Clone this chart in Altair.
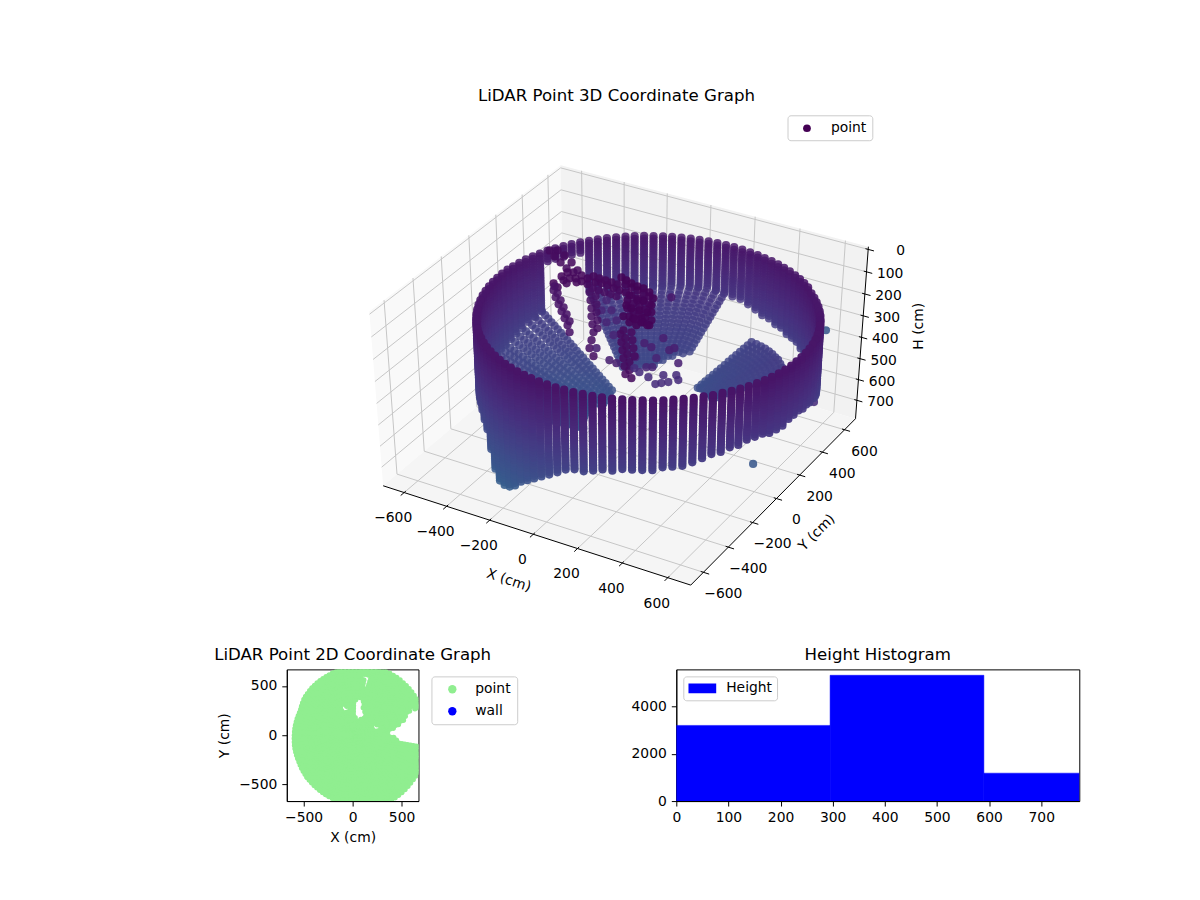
"""LiDAR point graphs: 3D scatter, 2D footprint and height histogram."""
import numpy as np
import pandas as pd
import altair as alt

FONT = "DejaVu Sans"

# one entry per scan column, degrees around the wall centre
column_azimuth = [
    -180.0, -176.7, -173.5, -170.2, -166.9, -163.6, -160.4, -157.1, -153.8, -150.5,
    -147.3, -144.0, -140.7, -137.5, -134.2, -130.9, -127.6, -124.4, -121.1, -117.8,
    -114.5, -111.3, -108.0, -104.7, -101.5, -98.2, -94.9, -91.6, -88.4, -85.1,
    -81.8, -78.5, -75.3, -72.0, -68.7, -65.5, -62.2, -58.9, -55.6, -52.4,
    -49.1, -45.8, -42.5, -39.3, -36.0, -32.7, -29.5, -26.2, -22.9, -19.6,
    -16.4, -13.1, -9.8, -6.5, -3.3, 0.0, 3.3, 6.5, 9.8, 13.1,
    16.4, 19.6, 22.9, 26.2, 29.5, 32.7, 36.0, 39.3, 42.5, 45.8,
    49.1, 52.4, 55.6, 58.9, 62.2, 65.5, 68.7, 72.0, 75.3, 78.5,
    81.8, 85.1, 88.4, 91.6, 94.9, 98.2, 101.5, 104.7, 108.0, 111.3,
    114.5, 117.8, 121.1, 124.4, 127.6, 130.9, 134.2, 137.5, 140.7, 144.0,
    147.3, 150.5, 153.8, 157.1, 160.4, 163.6, 166.9, 170.2, 173.5, 176.7,
]
WALL_CENTER = (97, 26)
WALL_RADIUS = 665
column_rim_h = [
    136, 136, 136, 136, 136, 136, 136, 136, 136, 136,
    137, 136, 135, 134, 133, 132, 131, 130, 129, 128,
    127, 126, 125, 124, 123, 122, 122, 122, 121, 121,
    120, 120, 120, 120, 120, 120, 120, 120, 120, 120,
    120, 121, 121, 122, 122, 123, 124, 125, 126, 127,
    127, 128, 129, 129, 129, 129, 130, 131, 132, 133,
    132, 133, 134, 135, 136, 137, 138, 139, 140, 141,
    134, 135, 136, 137, 138, 139, 140, 141, 142, 142,
    143, 143, 143, 144, 144, 144, 145, 145, 145, 145,
    145, 145, 145, 145, 145, 145, 144, 144, 144, 143,
    143, 142, 141, 140, 140, 139, 138, 138, 137, 136,
]
column_wall_bottom = [
    461, 461, 465, 469, 473, 476, 479, 481, 483, 484,
    483, 477, 480, 490, 505, 535, 600, 670, 705, 710,
    700, 672, 640, 610, 585, 560, 535, 512, 492, 475,
    468, 462, 450, 445, 442, 438, 435, 432, 430, 428,
    420, 410, 400, 393, 386, 382, 378, 376, 377, 378,
    379, 383, 383, 374, 369, 370, 384, 393, 403, 408,
    427, 441, 446, 452, 453, 454, 453, 451, 448, 444,
    441, 438, 434, 431, 428, 424, 417, 409, 407, 397,
    385, 381, 372, 364, 360, 358, 361, 365, 367, 369,
    374, 374, 374, 374, 374, 374, 373, 373, 373, 198,
    198, 197, 196, 195, 404, 416, 423, 436, 444, 452,
]
# ground returns behind each column: outer and inner radius, height at the outer end; 0 = none
column_floor_outer = [
    665, 665, 665, 665, 665, 665, 665, 665, 665, 665,
    665, 665, 665, 0, 0, 0, 0, 0, 0, 0,
    0, 0, 0, 0, 0, 0, 0, 0, 0, 0,
    0, 0, 0, 0, 0, 0, 0, 0, 0, 0,
    0, 0, 0, 0, 0, 0, 0, 0, 0, 0,
    0, 0, 0, 0, 0, 0, 0, 0, 0, 0,
    0, 0, 0, 0, 0, 0, 555, 555, 555, 555,
    555, 550, 545, 540, 540, 540, 540, 0, 0, 0,
    0, 0, 0, 665, 665, 665, 665, 665, 665, 665,
    665, 665, 665, 665, 665, 665, 665, 665, 665, 0,
    0, 0, 0, 0, 665, 665, 665, 665, 665, 665,
]
column_floor_inner = [
    250, 250, 250, 250, 250, 250, 250, 250, 250, 250,
    250, 250, 250, 0, 0, 0, 0, 0, 0, 0,
    0, 0, 0, 0, 0, 0, 0, 0, 0, 0,
    0, 0, 0, 0, 0, 0, 0, 0, 0, 0,
    0, 0, 0, 0, 0, 0, 0, 0, 0, 0,
    0, 0, 0, 0, 0, 0, 0, 0, 0, 0,
    0, 0, 0, 0, 0, 0, 250, 250, 250, 250,
    260, 260, 260, 260, 260, 260, 260, 0, 0, 0,
    0, 0, 0, 345, 340, 330, 320, 310, 300, 290,
    280, 280, 280, 280, 280, 280, 280, 280, 280, 0,
    0, 0, 0, 0, 220, 220, 220, 220, 220, 220,
]
column_floor_h = [
    461, 461, 465, 469, 473, 476, 479, 481, 483, 484,
    483, 477, 471, 0, 0, 0, 0, 0, 0, 0,
    0, 0, 0, 0, 0, 0, 0, 0, 0, 0,
    0, 0, 0, 0, 0, 0, 0, 0, 0, 0,
    0, 0, 0, 0, 0, 0, 0, 0, 0, 0,
    0, 0, 0, 0, 0, 0, 0, 0, 0, 0,
    0, 0, 0, 0, 0, 0, 420, 420, 420, 420,
    425, 430, 435, 440, 445, 450, 455, 0, 0, 0,
    0, 0, 0, 364, 360, 358, 361, 365, 367, 369,
    374, 374, 374, 374, 374, 374, 373, 373, 373, 0,
    0, 0, 0, 0, 404, 416, 423, 436, 444, 452,
]
wall_steps = [
    0, 12, 24, 36, 48, 60, 72, 84, 96, 108, 120, 132, 144, 156, 168, 180, 192, 204, 216,
    228, 240, 252, 264, 276, 288, 300, 312, 324, 336, 348, 360, 372, 384, 396, 408, 420,
    432, 444, 456, 468, 480, 492, 504, 516, 528, 540, 552, 564, 576, 588,
]
floor_radii = [
    660, 640, 620, 600, 580, 560, 540, 520, 500, 480, 460, 440,
    420, 400, 380, 360, 340, 320, 300, 280, 260, 240, 220,
]
floor_slope = 0.4

# returns off the wall and ground, read on the picture plane
clutter_x = [
    620, 625, 630, 636, 642, 648, 652, 650, 646, 640, 635, 628, 622, 628, 636, 642, 630, 638, 625, 632, 642, 648,
    624, 630, 636, 642, 648, 624, 630, 636, 642, 648, 626, 632, 638, 644, 650, 626, 632, 638, 644, 650, 628, 634, 640, 646,
    606, 612, 600, 594, 618, 586, 580, 572, 566, 560, 552, 575, 565, 556,
    610, 604, 598, 592, 616, 586, 580, 574, 568, 562, 603, 609, 615, 597, 591,
    548, 553, 559, 565, 556, 563, 570, 576,
    552, 554, 557, 560, 563, 566, 568, 553, 556, 559, 562, 565, 568,
    588, 589, 590, 590, 591, 592, 590, 588, 592, 594, 595, 595, 596, 596,
    622, 624, 625, 626, 628, 628, 630, 619, 620, 621, 622, 623, 624, 630, 631, 632, 633,
    605, 610, 600, 615, 605, 612,
    662, 673, 668, 677, 650, 643, 634, 655, 645, 651, 633, 638, 662, 675, 647, 654, 660, 667, 677, 615, 608, 595,
    670, 825, 752, 813,
]
clutter_y = [
    277, 280, 283, 286, 288, 292, 298, 305, 312, 318, 325, 322, 316, 295, 300, 300, 308, 310, 305, 318, 322, 325,
    284, 287, 290, 293, 296, 292, 295, 298, 301, 304, 300, 303, 306, 309, 312, 308, 311, 314, 317, 320, 316, 319, 322, 325,
    285, 288, 283, 282, 290, 278, 275, 272, 272, 276, 283, 282, 283, 287,
    282, 280, 278, 276, 284, 284, 281, 278, 278, 280, 292, 294, 296, 290, 288,
    250, 256, 262, 268, 250, 255, 262, 270,
    290, 297, 304, 311, 318, 325, 332, 286, 293, 300, 307, 314, 321,
    292, 300, 308, 316, 324, 332, 340, 348, 356, 296, 304, 312, 320, 328,
    330, 338, 346, 354, 362, 370, 378, 334, 342, 350, 358, 366, 374, 332, 340, 348, 356,
    300, 310, 310, 320, 322, 335,
    338, 348, 350, 363, 347, 343, 357, 358, 367, 367, 368, 372, 375, 375, 377, 384, 383, 382, 380, 363, 360, 348,
    297, 330, 464, 402,
]
clutter_h = [
    10, 10, 10, 10, 10, 10, 10, 10, 10, 10, 10, 10, 10, 10, 10, 10, 10, 10, 10, 10, 10, 10,
    25, 25, 25, 25, 25, 25, 25, 25, 25, 25, 25, 25, 25, 25, 25, 25, 25, 25, 25, 25, 25, 25, 25, 25,
    40, 40, 40, 40, 40, 40, 40, 40, 40, 40, 40, 40, 40, 40,
    50, 50, 50, 50, 50, 50, 50, 50, 50, 50, 80, 80, 80, 80, 80,
    60, 60, 60, 60, 60, 60, 60, 60,
    120, 120, 120, 120, 120, 120, 120, 120, 120, 120, 120, 120, 120,
    100, 100, 100, 100, 100, 100, 100, 100, 100, 100, 100, 100, 100, 100,
    60, 60, 60, 60, 60, 60, 60, 70, 70, 70, 70, 70, 70, 70, 70, 70, 70,
    250, 250, 250, 250, 250, 250,
    200, 200, 200, 200, 200, 200, 250, 250, 250, 250, 300, 300, 300, 300, 300, 300, 300, 300, 300, 200, 200, 200,
    150, 650, 650, 300,
]

x_ticks = [-600, -400, -200, 0, 200, 400, 600]
y_ticks = [-600, -400, -200, 0, 200, 400, 600]
h_ticks = [0, 100, 200, 300, 400, 500, 600, 700]

# 2D footprint: outline radius from the origin for each azimuth, then the gaps in it
footprint_radius = [
    620, 622, 624, 626, 628, 630, 632, 634, 636, 640,
    644, 648, 652, 656, 660, 664, 668, 672, 676, 682,
    686, 692, 698, 704, 710, 716, 722, 728, 736, 744,
    752, 760, 766, 772, 778, 784, 790, 793, 793, 793,
    793, 792, 791, 790, 790, 790, 790, 790, 790, 790,
    790, 789, 788, 787, 786, 785, 784, 783, 782, 780,
    778, 776, 775, 774, 773, 772, 771, 770, 768, 766,
    765, 763, 760, 758, 752, 745, 738, 732, 728, 724,
    718, 714, 710, 706, 702, 698, 694, 690, 686, 682,
    678, 674, 670, 666, 662, 658, 654, 650, 646, 640,
    632, 624, 616, 614, 614, 615, 616, 617, 618, 619,
]
disk_radii = [30, 60, 90, 120, 150, 180, 210, 240, 270, 300, 330, 360, 390, 420, 450, 480, 510, 540, 570, 600, 630, 660, 690, 720, 750]
hole_center = [(40, 380), (95, 380), (112, 250), (118, 185), (66, 150), (8, 195), (32, 260)]
hole_sliver = [(115, 600), (175, 600), (155, 475), (120, 475)]
hole_wedge = [(340, 25), (460, 95), (540, 170), (590, 260), (700, 270), (800, 270), (800, -85), (660, -85), (480, -65), (420, -20)]
hole_speck_a = [(-102, 288), (-48, 288), (-48, 252), (-102, 252)]
hole_speck_b = [(218, 98), (272, 98), (272, 62), (218, 62)]
holes = [hole_center, hole_sliver, hole_wedge, hole_speck_a, hole_speck_b]

# histogram
height_edges = [0, 295, 590, 885]
height_counts = [3200, 5320, 1180]

# 3D box limits and view, same maths as an mplot3d axes
X_LIM = (-700, 700)
Y_LIM = (-700, 700)
H_LIM = (790, -12)
ELEV, AZIM, DIST = np.radians(38), np.radians(-60), 10
BOX = np.array([4, 4, 3]) * 1.8294640721620434 * 25 / 24 / np.linalg.norm([4, 4, 3])


def raw_project(x, y, h):
    pts = np.stack([
        (np.asarray(x, float) - X_LIM[0]) / (X_LIM[1] - X_LIM[0]) * BOX[0],
        (np.asarray(y, float) - Y_LIM[0]) / (Y_LIM[1] - Y_LIM[0]) * BOX[1],
        (np.asarray(h, float) - H_LIM[0]) / (H_LIM[1] - H_LIM[0]) * BOX[2],
    ], axis=-1)
    look = np.array([np.cos(ELEV) * np.cos(AZIM), np.cos(ELEV) * np.sin(AZIM), np.sin(ELEV)])
    eye = BOX / 2 + DIST * look
    u = np.cross([0, 0, 1], look)
    u = u / np.linalg.norm(u)
    v = np.cross(look, u)
    rel = pts - eye
    depth = -(rel @ look)
    return rel @ u / depth, rel @ v / depth, depth


# box corners as seen on the page
anchors = [
    (X_LIM[0], Y_LIM[0], H_LIM[0], 378, 485),
    (X_LIM[1], Y_LIM[0], H_LIM[0], 691, 587),
    (X_LIM[1], Y_LIM[1], H_LIM[0], 857, 419),
    (X_LIM[1], Y_LIM[1], H_LIM[1], 864, 245),
    (X_LIM[0], Y_LIM[1], H_LIM[1], 560, 167),
    (X_LIM[0], Y_LIM[0], H_LIM[1], 369, 309),
]
a = np.array(anchors, float)
ax_, ay_, _ = raw_project(a[:, 0], a[:, 1], a[:, 2])
fit_x = np.linalg.lstsq(np.column_stack([ax_, np.ones(6)]), a[:, 3], rcond=None)[0]
fit_y = np.linalg.lstsq(np.column_stack([ay_, np.ones(6)]), a[:, 4], rcond=None)[0]


def project(x, y, h):
    px, py, depth = raw_project(x, y, h)
    return px * fit_x[0] + fit_x[1], py * fit_y[0] + fit_y[1], depth


def p2(x, y, h):
    px, py, _ = project(x, y, h)
    return float(px), float(py)


# ---- scan points
cx, cy, ch = [], [], []
for az, rim, bottom, outer, inner, floor_h in zip(column_azimuth, column_rim_h, column_wall_bottom,
                                                  column_floor_outer, column_floor_inner, column_floor_h):
    c, s = np.cos(np.radians(az)), np.sin(np.radians(az))
    for step in wall_steps:
        if rim + step <= bottom:
            cx.append(WALL_CENTER[0] + WALL_RADIUS * c)
            cy.append(WALL_CENTER[1] + WALL_RADIUS * s)
            ch.append(rim + step)
    for fr in floor_radii:
        if inner <= fr <= outer:
            cx.append(WALL_CENTER[0] + fr * c)
            cy.append(WALL_CENTER[1] + fr * s)
            ch.append(floor_h + floor_slope * (outer - fr))

px, py, depth = project(cx, cy, ch)
mid_depth = float(np.median(depth))
points3d = pd.DataFrame({
    "px": np.concatenate([px, clutter_x]),
    "py": np.concatenate([py, clutter_y]),
    "h": np.concatenate([ch, clutter_h]),
    "depth": np.concatenate([depth, np.full(len(clutter_x), mid_depth)]),
})
span = points3d["depth"].max() - points3d["depth"].min()
points3d["alpha"] = 1 - 0.2 * (points3d["depth"] - points3d["depth"].min()) / span
points3d = points3d.sort_values("depth", ascending=False)

# ---- 2D footprint points


def inside(x, y, poly):
    hit = False
    for (x1, y1), (x2, y2) in zip(poly, poly[1:] + poly[:1]):
        if (y1 > y) != (y2 > y) and x < x1 + (y - y1) / (y2 - y1) * (x2 - x1):
            hit = not hit
    return hit


fx, fy = [], []
for i, (az, r) in enumerate(zip(column_azimuth, footprint_radius)):
    c, s = np.cos(np.radians(az)), np.sin(np.radians(az))
    for fr in disk_radii + [r - 26]:
        if fr > r - 26 or (fr < 350 and i % 2):
            continue
        if not any(inside(fr * c, fr * s, poly) for poly in holes):
            fx.append(fr * c)
            fy.append(fr * s)
footprint = pd.DataFrame({"x": fx, "y": fy, "kind": "point"})

# ---- page scales for the 3D panel: one unit is one page pixel
X_PAGE = alt.Scale(domain=[8, 1192], nice=False, zero=False)
Y_PAGE = alt.Scale(domain=[648, 8], nice=False, zero=False)
enc_x = alt.X("px:Q", scale=X_PAGE, axis=None)
enc_y = alt.Y("py:Q", scale=Y_PAGE, axis=None)


def pane(corners, colour):
    xs = sorted({c[0] for c in corners})
    rows = []
    for x in xs:
        ys = []
        for (x1, y1), (x2, y2) in zip(corners, corners[1:] + corners[:1]):
            if min(x1, x2) <= x <= max(x1, x2):
                if x1 == x2:
                    ys += [y1, y2]
                else:
                    ys.append(y1 + (x - x1) / (x2 - x1) * (y2 - y1))
        rows.append({"px": x, "py": min(ys), "py2": max(ys)})
    return alt.Chart(pd.DataFrame(rows)).mark_area(color=colour).encode(enc_x, enc_y, y2="py2:Q")


def segments(rows, colour, width=1):
    df = pd.DataFrame(rows, columns=["px", "py", "px2", "py2"])
    return alt.Chart(df).mark_rule(color=colour, strokeWidth=width).encode(enc_x, enc_y, x2="px2:Q", y2="py2:Q")


def seg3d(a3, b3):
    return [*p2(*a3), *p2(*b3)]


x0, x1 = X_LIM
y0, y1 = Y_LIM
hb, ht = H_LIM

pane_left = pane([p2(x0, y0, hb), p2(x0, y1, hb), p2(x0, y1, ht), p2(x0, y0, ht)], "#f9f9f9")
pane_back = pane([p2(x0, y1, hb), p2(x1, y1, hb), p2(x1, y1, ht), p2(x0, y1, ht)], "#f2f2f2")
pane_floor = pane([p2(x0, y0, hb), p2(x1, y0, hb), p2(x1, y1, hb), p2(x0, y1, hb)], "#f5f5f5")

grid_rows = []
for t in x_ticks:
    grid_rows.append(seg3d((t, y0, hb), (t, y1, hb)))
    grid_rows.append(seg3d((t, y1, hb), (t, y1, ht)))
for t in y_ticks:
    grid_rows.append(seg3d((x1, t, hb), (x0, t, hb)))
    grid_rows.append(seg3d((x0, t, hb), (x0, t, ht)))
for t in h_ticks:
    grid_rows.append(seg3d((x0, y0, t), (x0, y1, t)))
    grid_rows.append(seg3d((x0, y1, t), (x1, y1, t)))
grid = segments(grid_rows, "#c6c6c6")

axis_rows = [
    seg3d((x0, y0, hb), (x1, y0, hb)),
    seg3d((x1, y0, hb), (x1, y1, hb)),
    seg3d((x1, y1, hb), (x1, y1, ht)),
]
tick_rows = []
label_rows = []
for t in x_ticks:
    tick_rows.append(seg3d((t, y0 - 25, hb), (t, y0 + 12, hb)))
    tx, ty = p2(t, y0, hb)
    label_rows.append({"px": tx - 11, "py": ty + 26, "text": f"{t}".replace("-", "\u2212")})
for t in y_ticks:
    tick_rows.append(seg3d((x1 - 12, t, hb), (x1 + 25, t, hb)))
    tx, ty = p2(x1, t, hb)
    label_rows.append({"px": tx + 20, "py": ty + 22, "text": f"{t}".replace("-", "\u2212")})
axes_lines = segments(axis_rows + tick_rows, "black")
tick_labels = alt.Chart(pd.DataFrame(label_rows)).mark_text(font=FONT, fontSize=13.9, color="black").encode(
    enc_x, enc_y, text="text:N")

h_tick_rows = [seg3d((x1 - 12, y1, t), (x1 + 25, y1, t)) for t in h_ticks]
h_label_rows = []
for t in h_ticks:
    tx, ty = p2(x1, y1, t)
    h_label_rows.append({"px": tx + 37, "py": ty + 2, "text": str(t)})
h_lines = segments(h_tick_rows, "black")
h_labels = alt.Chart(pd.DataFrame(h_label_rows)).mark_text(font=FONT, fontSize=13.9, color="black", align="right").encode(
    enc_x, enc_y, text="text:N")


def page_text(x, y, text, size=13.9, angle=0):
    df = pd.DataFrame({"px": [x], "py": [y], "text": [text]})
    return alt.Chart(df).mark_text(font=FONT, fontSize=size, color="black", angle=angle).encode(enc_x, enc_y, text="text:N")


scatter3d = alt.Chart(points3d).mark_circle(size=68).encode(
    enc_x, enc_y,
    color=alt.Color("h:Q", scale=alt.Scale(scheme="viridis", domain=[0, 2400]), legend=None),
    opacity=alt.Opacity("alpha:Q", scale=None),
)

legend_box = alt.Chart(pd.DataFrame({"px": [787], "px2": [872], "py": [115], "py2": [140]})).mark_rect(
    fill="white", stroke="#cccccc", cornerRadius=3).encode(enc_x, enc_y, x2="px2:Q", y2="py2:Q")
legend_dot = alt.Chart(pd.DataFrame({"px": [806], "py": [127.5]})).mark_circle(size=60, color="#440154", opacity=1).encode(enc_x, enc_y)
legend_label = alt.Chart(pd.DataFrame({"px": [830], "py": [127.5], "text": ["point"]})).mark_text(
    font=FONT, fontSize=13.9, color="black", align="left").encode(enc_x, enc_y, text="text:N")

top = alt.layer(
    pane_left, pane_back, pane_floor, grid, axes_lines, h_lines, tick_labels, h_labels,
    scatter3d,
    page_text(507, 581, "X (cm)", angle=18),
    page_text(816, 533, "Y (cm)", angle=315),
    page_text(918, 326, "H (cm)", angle=270),
    page_text(615, 95, "LiDAR Point 3D Coordinate Graph", size=16.67),
    legend_box, legend_dot, legend_label,
).properties(width=1184, height=640)

# ---- bottom row
AXIS_STYLE = dict(grid=False, domainColor="black", tickColor="black", tickSize=5, labelColor="black",
                  labelFont=FONT, labelFontSize=13.9, titleFont=FONT, titleFontSize=13.9,
                  titleFontWeight="normal", titleColor="black", labelPadding=5, labelFlush=False, format="d")

scatter2d = alt.Chart(footprint).mark_circle(size=30, opacity=1, clip=True).encode(
    x=alt.X("x:Q", scale=alt.Scale(domain=[-672, 672], nice=False),
            axis=alt.Axis(values=[-500, 0, 500], title="X (cm)", titlePadding=6, **AXIS_STYLE)),
    y=alt.Y("y:Q", scale=alt.Scale(domain=[-667, 667], nice=False),
            axis=alt.Axis(values=[-500, 0, 500], title="Y (cm)", titlePadding=7, **AXIS_STYLE)),
    color=alt.Color("kind:N", scale=alt.Scale(domain=["point", "wall"], range=["lightgreen", "blue"]),
                    legend=alt.Legend(title=None, orient="none", legendX=145, legendY=7, fillColor="white",
                                      strokeColor="#cccccc", cornerRadius=3, padding=6, labelFont=FONT,
                                      labelFontSize=13.9, labelColor="black", symbolSize=70, symbolOpacity=1,
                                      symbolType="circle", rowPadding=7, symbolOffset=8, labelOffset=16)),
).properties(width=132, height=132, view=alt.ViewBackground(stroke="black"),
             title=alt.TitleParams("LiDAR Point 2D Coordinate Graph", font=FONT, fontSize=16.67,
                                   fontWeight="normal", color="black", offset=6))

hist_df = pd.DataFrame({"start": height_edges[:-1], "end": height_edges[1:], "count": height_counts,
                        "base": [0, 0, 0], "series": "Height"})
hist = alt.Chart(hist_df).mark_rect(clip=True, stroke="blue", strokeWidth=0.5).encode(
    x=alt.X("start:Q", scale=alt.Scale(domain=[0, 773], nice=False),
            axis=alt.Axis(values=h_ticks, title=None, **AXIS_STYLE)),
    x2="end:Q",
    y=alt.Y("count:Q", scale=alt.Scale(domain=[0, 5570], nice=False),
            axis=alt.Axis(values=[0, 2000, 4000], title=None, **AXIS_STYLE)),
    y2="base:Q",
    color=alt.Color("series:N", scale=alt.Scale(domain=["Height"], range=["blue"]),
                    legend=alt.Legend(title=None, orient="none", legendX=7, legendY=7, fillColor="white",
                                      strokeColor="#cccccc", cornerRadius=3, padding=5, labelFont=FONT,
                                      labelFontSize=13.9, labelColor="black", symbolSize=784, clipHeight=14,
                                      symbolType="M-1,-0.35H1V0.35H-1Z", symbolStrokeWidth=0, labelOffset=10)),
).properties(width=404, height=132, view=alt.ViewBackground(stroke="black"),
             title=alt.TitleParams("Height Histogram", font=FONT, fontSize=16.67,
                                   fontWeight="normal", color="black", offset=6))

spacer = alt.Chart(pd.DataFrame({"a": [0]})).mark_point(opacity=0).encode(x=alt.value(0)).properties(width=18, height=132)

bottom = alt.hconcat(spacer, scatter2d, hist, spacing=258.5, bounds="flush").resolve_scale(color="independent")

chart = alt.vconcat(top, bottom, spacing=22, bounds="flush").resolve_scale(color="independent").properties(
    padding=0, background="white"
).configure_view(stroke=None)

chart.save("out.html", embed_options={"renderer": "svg", "actions": False})
